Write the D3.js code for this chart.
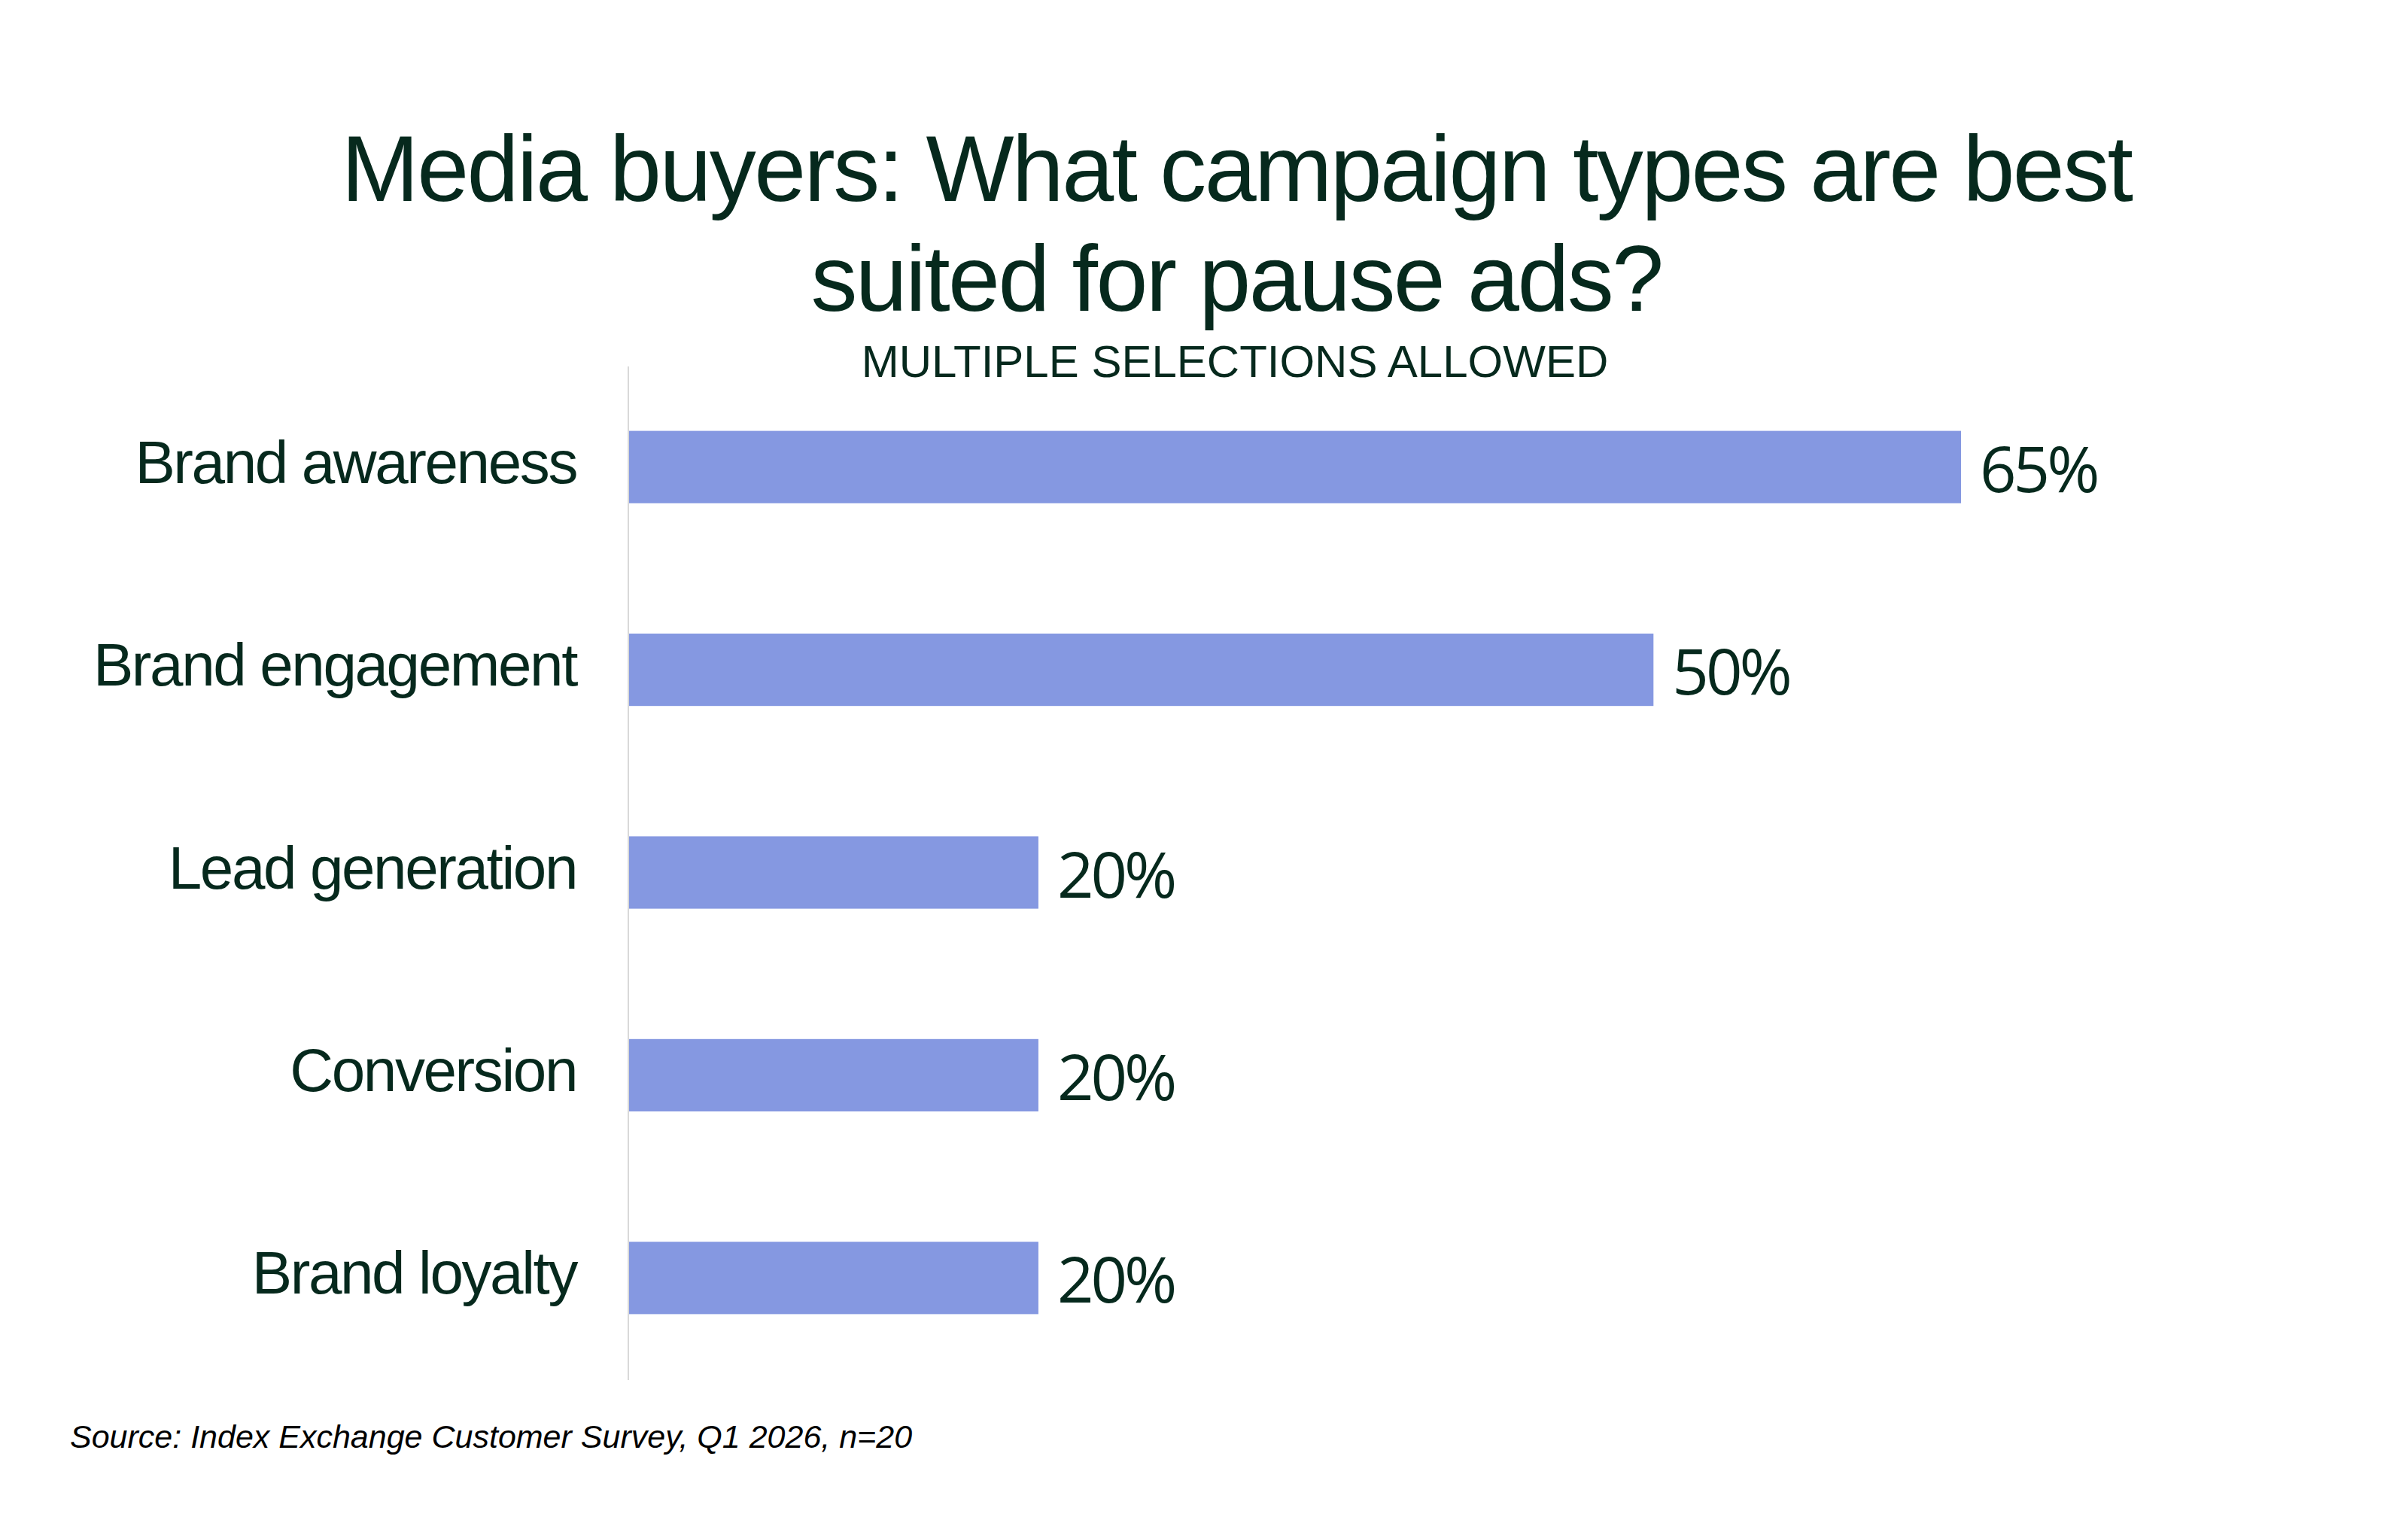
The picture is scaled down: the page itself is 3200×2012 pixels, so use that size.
<!DOCTYPE html>
<html>
<head>
<meta charset="utf-8">
<script src="https://cdn.jsdelivr.net/npm/d3@7"></script>
<style>
  html, body { margin: 0; padding: 0; background: #ffffff; }
</style>
</head>
<body>
<div id="chart"></div>
<script>
// Data
const categories = ['Brand awareness', 'Brand engagement', 'Lead generation', 'Conversion', 'Brand loyalty']
const values = [65, 50, 20, 20, 20]
const titleLines = ['Media buyers: What campaign types are best', 'suited for pause ads?']
const subtitle = 'MULTIPLE SELECTIONS ALLOWED'
const source = 'Source: Index Exchange Customer Survey, Q1 2026, n=20'

const width = 3200
const height = 2012
const textColor = '#06291d'
const barColor = '#8598e1'

const svg = d3.select('#chart')
  .append('svg')
  .attr('width', width)
  .attr('height', height)

// Scales
const xScale = d3.scaleLinear().domain([0, 65]).range([835, 2606])
const yScale = d3.scaleBand()
  .domain(categories)
  .range([486, 1833])
  .paddingInner(0.643)
  .paddingOuter(0.3215)

// Title
svg.append('g').selectAll('text')
  .data(titleLines)
  .join('text')
  .attr('x', 1643)
  .attr('y', (d, i) => 267 + i * 146)
  .attr('text-anchor', 'middle')
  .style('font-family', '"Liberation Sans", Arial, sans-serif')
  .style('font-size', '124px')
  .style('letter-spacing', '-2.6px')
  .style('fill', textColor)
  .text(d => d)

svg.append('text')
  .attr('x', 1641)
  .attr('y', 501)
  .attr('text-anchor', 'middle')
  .style('font-family', '"Liberation Sans", Arial, sans-serif')
  .style('font-size', '60px')
  .style('fill', textColor)
  .text(subtitle)

// Vertical axis line
svg.append('line')
  .attr('x1', xScale(0))
  .attr('x2', xScale(0))
  .attr('y1', 487)
  .attr('y2', 1834)
  .style('stroke', '#d9d9d9')
  .style('stroke-width', 2)

// Bars
const rows = categories.map((c, i) => ({cat: c, value: values[i]}))

svg.append('g').selectAll('rect')
  .data(rows)
  .join('rect')
  .attr('x', xScale(0) + 1)
  .attr('y', d => yScale(d.cat))
  .attr('width', d => xScale(d.value) - xScale(0) - 1)
  .attr('height', yScale.bandwidth())
  .style('fill', barColor)

// Category labels
svg.append('g').selectAll('text')
  .data(rows)
  .join('text')
  .attr('x', 766)
  .attr('y', d => yScale(d.cat) + yScale.bandwidth() / 2 + 21)
  .attr('text-anchor', 'end')
  .style('font-family', '"Liberation Sans", Arial, sans-serif')
  .style('font-size', '80px')
  .style('letter-spacing', '-2.4px')
  .style('fill', textColor)
  .text(d => d.cat)

// Value labels
svg.append('g').selectAll('text')
  .data(rows)
  .join('text')
  .attr('x', d => xScale(d.value) + 25)
  .attr('y', d => yScale(d.cat) + yScale.bandwidth() / 2 + 33)
  .style('font-family', '"Open Sans", sans-serif')
  .style('font-size', '85px')
  .style('letter-spacing', '-4px')
  .style('fill', textColor)
  .text(d => d.value + '%')

// Source
svg.append('text')
  .attr('x', 93)
  .attr('y', 1924)
  .style('font-family', '"Liberation Sans", Arial, sans-serif')
  .style('font-size', '43px')
  .style('font-style', 'italic')
  .style('fill', '#000000')
  .text(source)
</script>
</body>
</html>
